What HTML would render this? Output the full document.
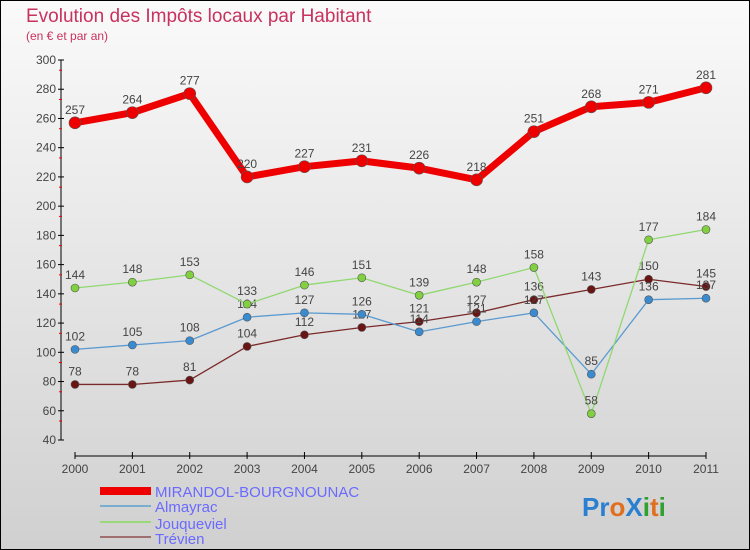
<!DOCTYPE html>
<html><head><meta charset="utf-8"><style>
body{margin:0;width:750px;height:550px;overflow:hidden}
svg{display:block;font-family:"Liberation Sans",sans-serif}
</style></head><body>
<svg width="750" height="550">
<defs><linearGradient id="bg" x1="0" y1="0" x2="0" y2="1"><stop offset="0" stop-color="#fafafa"/><stop offset="1" stop-color="#d0d0d0"/></linearGradient></defs>
<rect x="0.5" y="0.5" width="749" height="549" fill="url(#bg)" stroke="#000"/>
<text x="26" y="22" font-size="19" fill="#c8325e">Evolution des Impôts locaux par Habitant</text>
<text x="26" y="40" font-size="12" fill="#c8325e">(en € et par an)</text>
<g id="axes"></g>
<g id="series"></g>
<g>
<rect x="100" y="487" width="51" height="8" fill="#e00"/>
<text x="155" y="497" font-size="15" fill="#6a6aff">MIRANDOL-BOURGNOUNAC</text>
<rect x="100" y="505" width="51" height="2" fill="#7aaed0"/>
<text x="155" y="512" font-size="15" fill="#6a6aff">Almayrac</text>
<rect x="100" y="521" width="51" height="2" fill="#9ad878"/>
<text x="155" y="529" font-size="15" fill="#6a6aff">Jouqueviel</text>
<rect x="100" y="536" width="51" height="2" fill="#a07070"/>
<text x="155" y="544" font-size="15" fill="#6a6aff">Trévien</text>
</g>
<g font-size="26" font-weight="bold">
<text x="582" y="516"><tspan fill="#2a7fd0">Pr</tspan><tspan fill="#e07020">o</tspan><tspan fill="#2a7fd0">X</tspan><tspan fill="#30a030">i</tspan><tspan fill="#e07020">t</tspan><tspan fill="#30a030">i</tspan></text>
</g>
</svg>
<script>
const years=["2000","2001","2002","2003","2004","2005","2006","2007","2008","2009","2010","2011"];
const yTicks=[40,60,80,100,120,140,160,180,200,220,240,260,280,300];
const mirandol=[257,264,277,220,227,231,226,218,251,268,271,281];
const almayrac=[102,105,108,124,127,126,114,121,127,85,136,137];
const jouqueviel=[144,148,153,133,146,151,139,148,158,58,177,184];
const trevien=[78,78,81,104,112,117,121,127,136,143,150,145];
const NS="http://www.w3.org/2000/svg";
const xS=i=>75+i*(706-75)/11;
const yS=v=>60+(300-v)*(380/260);
function mk(tag,attrs,parent){const e=document.createElementNS(NS,tag);for(const k in attrs)e.setAttribute(k,attrs[k]);parent.appendChild(e);return e;}
const ax=document.getElementById('axes');
let yl=mk('line',{x1:61,y1:60,x2:61,y2:440,stroke:'#000'},ax);


yTicks.forEach((t,k)=>{
 const y=yS(t);
 mk('line',{x1:58,y1:y,x2:64,y2:y,stroke:'#000'},ax);
 if(k<yTicks.length-1) mk('line',{x1:59,y1:y-19,x2:62,y2:y-19,stroke:'#e00'},ax);
 const tx=mk('text',{x:56,y:y+4,'font-size':12,fill:'#444','text-anchor':'end'},ax);
 tx.textContent=t;
 
 
});
let xl=mk('line',{x1:75,y1:456,x2:706,y2:456,stroke:'#000'},ax);


years.forEach((yr,i)=>{
 const x=xS(i);
 mk('line',{x1:x,y1:452,x2:x,y2:459,stroke:'#000'},ax);
 const tx=mk('text',{x:x,y:473,'font-size':12,fill:'#444','text-anchor':'middle'},ax);
 tx.textContent=yr;
 
 
});
const sg=document.getElementById('series');
function draw(data,name,color,w,r,fill,lblSize){
 const g=mk('g',{},sg);
 
 
 const pts=data.map((v,i)=>xS(i)+','+yS(v)).join(' ');
 mk('polyline',{points:pts,fill:'none',stroke:color,'stroke-width':w,'stroke-linejoin':'round','stroke-linecap':'round'},g);
 data.forEach((v,i)=>{
  const c=mk('circle',{cx:xS(i),cy:yS(v),r:r,fill:fill,stroke:'#555','stroke-width':0.6},g);
  
  
  const t=mk('text',{x:xS(i),y:yS(v)-9,'font-size':lblSize,fill:'#444','text-anchor':'middle'},g);
  t.textContent=v;
  
  
 });
}
draw(trevien,'trevien','#7a2a2a',1.3,4,'#6a1414',12);
draw(almayrac,'almayrac','#5a9ad0',1.3,4,'#3a8ad0',12);
draw(jouqueviel,'jouqueviel','#90d870',1.3,4,'#80d040',12);
draw(mirandol,'mirandol','#ee0000',7,6,'#ee0000',12);
</script>
</body></html>
